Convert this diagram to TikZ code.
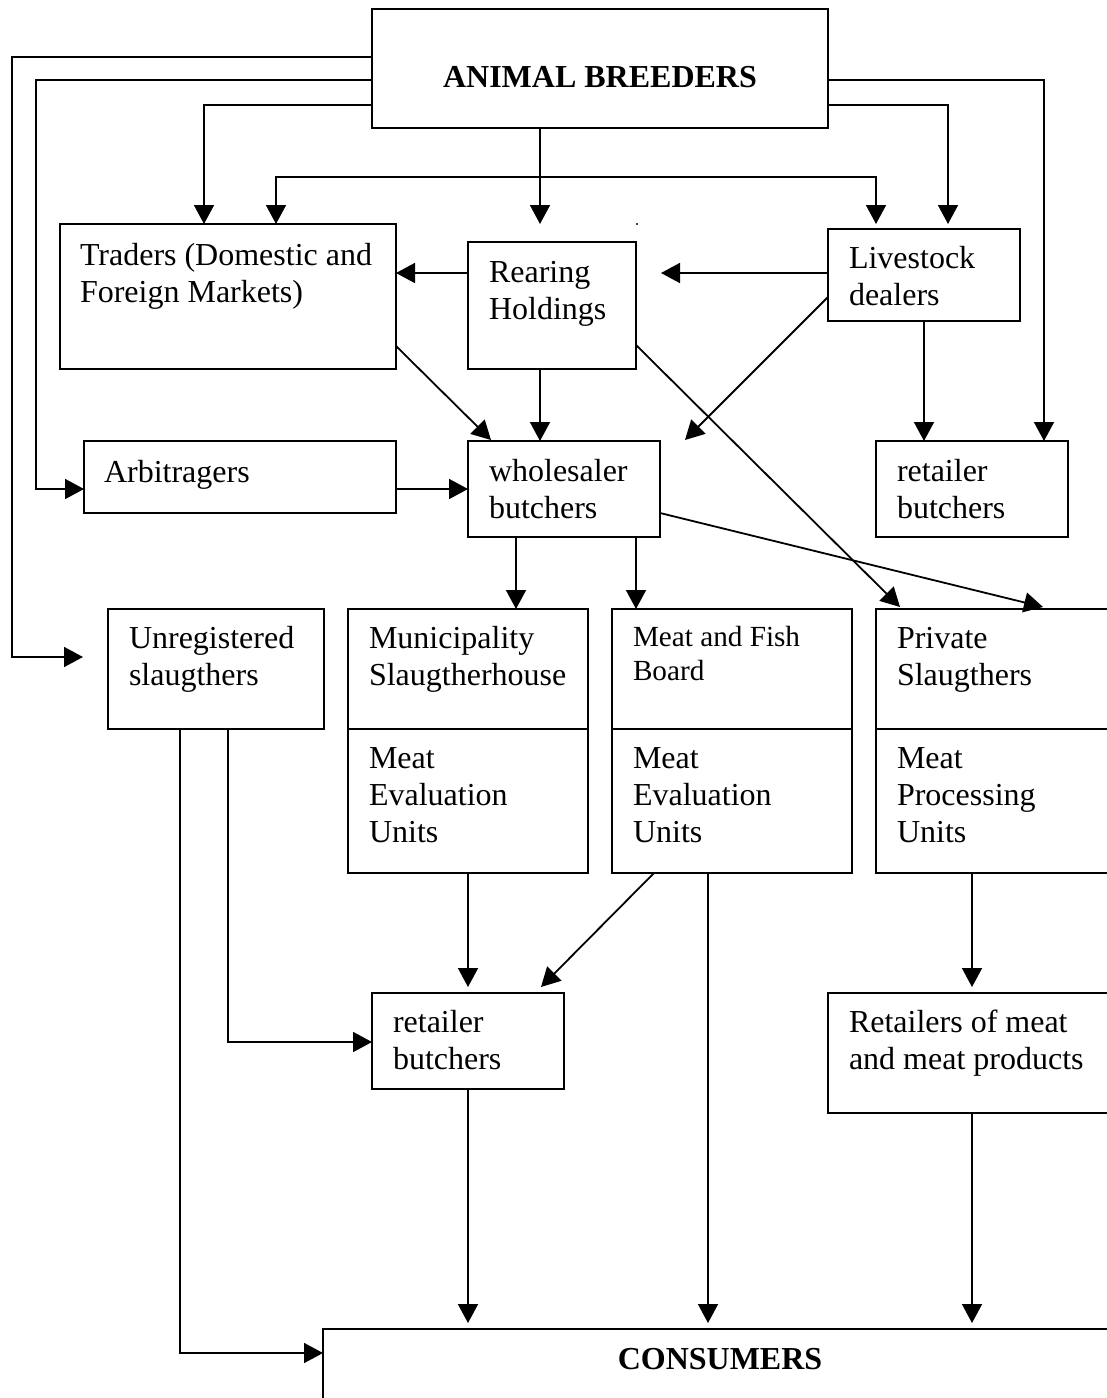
\documentclass[tikz,border=0pt]{standalone}
\usepackage{fontspec}
\setmainfont{Liberation Serif}
\usetikzlibrary{arrows.meta,calc}
\begin{document}
\begin{tikzpicture}[x=0.5pt,y=-0.5pt,
  box/.style={draw,line width=0.9pt,inner sep=0pt,outer sep=0pt,anchor=north west},
  txt/.style={inner sep=0pt,outer sep=0pt,anchor=base west,align=left,font=\fontsize{16}{18.5}\selectfont},
  smalltxt/.style={txt,font=\fontsize{14.6}{17}\selectfont},
  conn/.style={line width=0.9pt},
  arr/.style={conn,-{Triangle[length=9.5pt,width=10pt]}},
  darr/.style={conn,{Triangle[length=9.5pt,width=10pt]}-{Triangle[length=9.5pt,width=10pt]}}]
\useasboundingbox (0,0) rectangle (1107,1398);
\clip (0,0) rectangle (1107,1398);
% boxes
\node[box,minimum width=228pt,minimum height=59.5pt] (ab) at (372,9) {};
\node[box,minimum width=168pt,minimum height=72.5pt] (tr) at (60,224) {};
\node[box,minimum width=84pt,minimum height=63.5pt] (rh) at (468,242) {};
\node[box,minimum width=96pt,minimum height=46pt] (ls) at (828,229) {};
\node[box,minimum width=156pt,minimum height=36pt] (arb) at (84,441) {};
\node[box,minimum width=96pt,minimum height=48pt] (ws) at (468,441) {};
\node[box,minimum width=96pt,minimum height=48pt] (rr) at (876,441) {};
\node[box,minimum width=108pt,minimum height=60pt] (unreg) at (108,609) {};
\node[box,minimum width=120pt,minimum height=60pt] (muU) at (348,609) {};
\node[box,minimum width=120pt,minimum height=72pt] (muL) at (348,729) {};
\node[box,minimum width=120pt,minimum height=60pt] (mfU) at (612,609) {};
\node[box,minimum width=120pt,minimum height=72pt] (mfL) at (612,729) {};
\node[box,minimum width=120pt,minimum height=60pt] (pvU) at (876,609) {};
\node[box,minimum width=120pt,minimum height=72pt] (pvL) at (876,729) {};
\node[box,minimum width=96pt,minimum height=48pt] (rl) at (372,993) {};
\node[box,minimum width=144pt,minimum height=60pt] (rm) at (828,993) {};
\node[box,minimum width=397pt,minimum height=50pt] (cons) at (323,1329) {};
% texts (anchor base = baseline of the last line)
\node[txt,anchor=base,font=\fontsize{16}{18.5}\selectfont\bfseries] (ab-t) at ($(ab.north west)+(228,78)$) {ANIMAL BREEDERS};
\node[txt] (tr-t) at ($(tr.north west)+(20,78)$) {Traders (Domestic and\\Foreign Markets)};
\node[txt] (rh-t) at ($(rh.north west)+(21,77)$) {Rearing\\Holdings};
\node[txt] (ls-t) at ($(ls.north west)+(21,76)$) {Livestock\\dealers};
\node[txt] (arb-t) at ($(arb.north west)+(20,41)$) {Arbitragers};
\node[txt] (ws-t) at ($(ws.north west)+(21,77)$) {wholesaler\\butchers};
\node[txt] (rr-t) at ($(rr.north west)+(21,77)$) {retailer\\butchers};
\node[txt] (unreg-t) at ($(unreg.north west)+(21,76)$) {Unregistered\\slaugthers};
\node[txt] (muU-t) at ($(muU.north west)+(21,76)$) {Municipality\\Slaugtherhouse};
\node[txt] (muL-t) at ($(muL.north west)+(21,113)$) {Meat\\Evaluation\\Units};
\node[smalltxt] (mfU-t) at ($(mfU.north west)+(21,71)$) {Meat and Fish\\Board};
\node[txt] (mfL-t) at ($(mfL.north west)+(21,113)$) {Meat\\Evaluation\\Units};
\node[txt] (pvU-t) at ($(pvU.north west)+(21,76)$) {Private\\Slaugthers};
\node[txt] (pvL-t) at ($(pvL.north west)+(21,113)$) {Meat\\Processing\\Units};
\node[txt] (rl-t) at ($(rl.north west)+(21,76)$) {retailer\\butchers};
\node[txt] (rm-t) at ($(rm.north west)+(21,76)$) {Retailers of meat\\and meat products};
\node[txt,anchor=base,font=\fontsize{16}{18.5}\selectfont\bfseries] (cons-t) at ($(cons.north west)+(397,40)$) {CONSUMERS};
\fill (637,224) circle (0.6pt);
% connectors from animal breeders
\draw[arr] ($(ab.north west)+(0,48)$) -| ($(unreg.north west)+(-96,48)$) -- ($(unreg.north west)+(-25,48)$);
\draw[arr] ($(ab.north west)+(0,71)$) -| ($(arb.north west)+(-48,48)$) -- ($(arb.north west)+(0,48)$);
\draw[arr] ($(ab.north west)+(0,96)$) -| ($(tr.north west)+(144,0)$);
\draw[darr] ($(tr.north west)+(216,0)$) |- ($(ls.north west)+(48,-52)$) -- ($(ls.north west)+(48,-5)$);
\draw[arr] ($(ab.south west)+(168,0)$) -- ($(rh.north west)+(72,-18)$);
\draw[arr] ($(ab.north east)+(0,71)$) -| ($(rr.north west)+(168,0)$);
\draw[arr] ($(ab.north east)+(0,96)$) -| ($(ls.north west)+(120,-5)$);
% middle
\draw[arr] ($(rh.north west)+(0,31)$) -- ($(tr.north east)+(0,49)$);
\draw[arr] ($(ls.north west)+(0,44)$) -- ($(rh.north east)+(25,31)$);
\draw[arr] ($(ls.north west)+(0,68)$) -- ($(ws.north east)+(25,-1)$);
\draw[arr] ($(ls.south west)+(96,0)$) -- ($(rr.north west)+(48,0)$);
\draw[arr] ($(tr.north east)+(0,122)$) -- ($(ws.north west)+(23,-1)$);
\draw[arr] ($(rh.south west)+(72,0)$) -- ($(ws.north west)+(72,0)$);
\draw[arr] ($(rh.north east)+(0,103)$) -- ($(pvU.north west)+(24,-2)$);
\draw[arr] ($(arb.north east)+(0,48)$) -- ($(ws.north west)+(0,48)$);
\draw[arr] ($(ws.south west)+(48,0)$) -- ($(muU.north west)+(168,0)$);
\draw[arr] ($(ws.south west)+(168,0)$) -- ($(mfU.north west)+(24,0)$);
\draw[arr] ($(ws.north east)+(0,72)$) -- ($(pvU.north west)+(167,-2)$);
% lower
\draw[arr] ($(unreg.south west)+(72,0)$) |- ($(cons.north west)+(0,24)$);
\draw[arr] ($(unreg.south west)+(120,0)$) |- ($(rl.north west)+(0,49)$);
\draw[arr] ($(muL.south west)+(120,0)$) -- ($(rl.north west)+(96,-6)$);
\draw[arr] ($(mfL.south west)+(42,0)$) -- ($(rl.north east)+(-23,-6)$);
\draw[arr] ($(mfL.south west)+(96,0)$) -- ($(cons.north west)+(385,-6)$);
\draw[arr] ($(pvL.south west)+(96,0)$) -- ($(rm.north west)+(144,-6)$);
\draw[arr] ($(rl.south west)+(96,0)$) -- ($(cons.north west)+(145,-6)$);
\draw[arr] ($(rm.south west)+(144,0)$) -- ($(cons.north west)+(649,-6)$);
\end{tikzpicture}
\end{document}
